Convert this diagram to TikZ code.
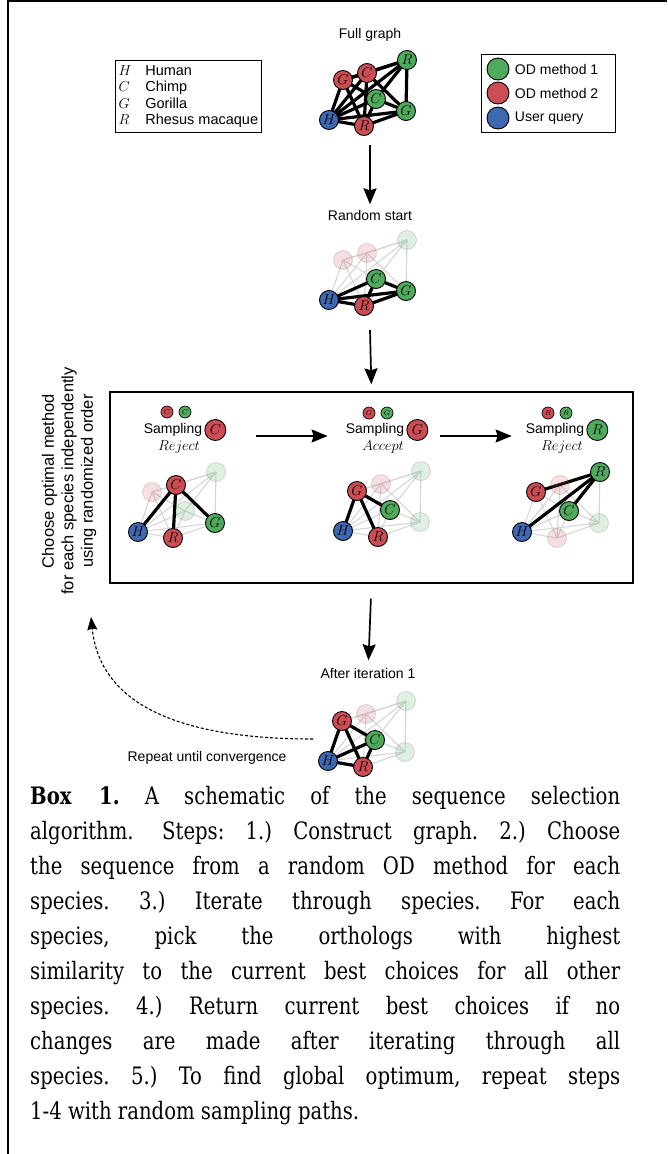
\documentclass[tikz,border=0pt]{standalone}
\usepackage{fontspec}
\setmainfont{Liberation Sans}
\newfontfamily\capfont{DejaVu Serif Condensed}[FakeStretch=0.91]
\usetikzlibrary{positioning,arrows.meta,backgrounds}

\definecolor{odgreen}{RGB}{80,170,92}
\definecolor{odred}{RGB}{204,78,84}
\definecolor{qblue}{RGB}{62,104,176}

% one species graph, H at the local origin
% #1 prefix, #2-#8 styles of G1 C1 R1 C2 G2 H R2, #9 thick edges
\newcommand{\speciesgraph}[9]{%
  \node[#2] (#1g1) at (14,-40) {$G$};
  \node[#3] (#1c1) at (38,-47) {$C$};
  \node[#4] (#1r1) at (78,-60) {$R$};
  \node[#5] (#1c2) at (47,-21) {$C$};
  \node[#6] (#1g2) at (77,-9) {$G$};
  \node[#7] (#1h) at (0,0) {$H$};
  \node[#8] (#1r2) at (35,6) {$R$};
  \begin{pgfonlayer}{background}
    \foreach \fromsp/\tosp in {h/g1,h/c1,h/r1,h/c2,h/g2,h/r2,g1/c1,g1/c2,g1/r1,g1/r2,
        g2/c1,g2/c2,g2/r1,g2/r2,c1/r1,c1/r2,c2/r1,c2/r2}
      \draw[thinedge] (#1\fromsp.center) -- (#1\tosp.center);
    \foreach \fromsp/\tosp in {#9}
      \draw[thickedge] (#1\fromsp.center) -- (#1\tosp.center);
  \end{pgfonlayer}}

\begin{document}
\begin{tikzpicture}[
  x=1pt, y=-1pt,
  lbl/.style={font=\fontsize{14}{16}\selectfont},
  spnode/.style={circle, draw=black, line width=0.9pt, minimum size=19pt,
    inner sep=0pt, font=\fontsize{13.5}{13.5}\selectfont},
  grnnode/.style={spnode, fill=odgreen},
  rednode/.style={spnode, fill=odred},
  blunode/.style={spnode, fill=qblue},
  fadegrn/.style={spnode, fill=odgreen, fill opacity=0.18, draw opacity=0.12,
    text opacity=0},
  fadered/.style={spnode, fill=odred, fill opacity=0.18, draw opacity=0.12,
    text opacity=0},
  smallnode/.style={minimum size=12pt, line width=0.7pt,
    font=\fontsize{7.5}{7.5}\selectfont},
  picknode/.style={minimum size=21pt},
  samplab/.style={lbl, inner sep=1pt},
  verdict/.style={font=\fontsize{14}{14}\selectfont},
  thinedge/.style={draw=black!16, line width=1.1pt},
  thickedge/.style={draw=black, line width=3.2pt},
  flow/.style={line width=1.7pt, -{Stealth[length=16pt,width=13pt,inset=2pt]}},
  loopflow/.style={line width=1.1pt, dash pattern=on 3pt off 2pt,
    -{Stealth[length=13pt,width=10pt,inset=1.5pt]}}
]
\useasboundingbox (0,0) rectangle (667,1154);
\draw[line width=1.5pt] (8,1154) -- (8,1) -- (667,1);

% keys
\node[draw, line width=1pt, inner sep=3pt, anchor=north west,
  font=\fontsize{14.5}{16.5}\selectfont] (spkey) at (115,60)
  {\begin{tabular}{@{}l@{\hspace{14pt}}l@{}}
    $H$ & Human\\ $C$ & Chimp\\ $G$ & Gorilla\\ $R$ & Rhesus macaque
  \end{tabular}};
\node[draw, line width=1pt, minimum width=134pt, minimum height=78pt]
  (odkey) at (548,93) {};
\node[grnnode, minimum size=22pt] (keyg) at (498,69) {};
\node[rednode, minimum size=22pt] (keyr) at (498,93) {};
\node[blunode, minimum size=22pt] (keyb) at (498,118) {};
\node[lbl, right=2pt of keyg] (keyglbl) {OD method 1};
\node[lbl, right=2pt of keyr] (keyrlbl) {OD method 2};
\node[lbl, right=2pt of keyb] (keyblbl) {User query};

% full graph and random start
\node[lbl] (lblfull) at (370,35) {Full graph};
\begin{scope}[shift={(329,120)}]
\speciesgraph{fg}{rednode}{rednode}{grnnode}{grnnode}{grnnode}{blunode}{rednode}
  {h/g1,h/c1,h/r1,h/c2,h/g2,h/r2,g1/c1,g1/c2,g1/r1,g1/r2,
   g2/c1,g2/c2,g2/r1,g2/r2,c1/r1,c1/r2,c2/r1,c2/r2}
\end{scope}
\node[lbl] (lblrand) at (370,215) {Random start};
\begin{scope}[shift={(329,300)}]
\speciesgraph{rs}{fadered}{fadered}{fadegrn}{grnnode}{grnnode}{blunode}{rednode}
  {h/c2,h/g2,h/r2,c2/g2,c2/r2,g2/r2}
\end{scope}
\coordinate (fullout) at (370,145);
\coordinate (randout) at (370,330);
\draw[flow, shorten >=2pt] (fullout) -- (lblrand);

% one pass over the species
\node[draw, line width=1.3pt, minimum width=523pt, minimum height=191pt]
  (itbox) at (371.5,487.5) {};
\draw[flow, shorten >=7pt] (randout) -- (itbox.north);
\node[lbl, rotate=90, align=center, font=\fontsize{16.5}{19.5}\selectfont]
  (sidenote) at (69,481)
  {Choose optimal method\\for each species independently\\using randomized order};

\node[samplab] (samp1) at (173,430) {Sampling};
\node[rednode, picknode, right=1pt of samp1] (pick1) {$C$};
\node[rednode, smallnode] (sa1) at (167,412) {$C$};
\node[grnnode, smallnode] (sb1) at (185,412) {$C$};
\node[verdict] (verd1) at (179,447) {$Reject$};
\begin{scope}[shift={(138,532)}]
\speciesgraph{pa}{fadered}{rednode}{fadegrn}{fadegrn}{grnnode}{blunode}{rednode}
  {c1/h,c1/r2,c1/g2}
\end{scope}

\node[samplab] (samp2) at (375,430) {Sampling};
\node[rednode, picknode, right=1pt of samp2] (pick2) {$G$};
\node[rednode, smallnode] (sa2) at (369,413) {$G$};
\node[grnnode, smallnode] (sb2) at (387,413) {$G$};
\node[verdict] (verd2) at (383,447) {$Accept$};
\begin{scope}[shift={(343,531)}]
\speciesgraph{pb}{rednode}{fadered}{fadegrn}{grnnode}{fadegrn}{blunode}{rednode}
  {g1/h,g1/c2,g1/r2}
\end{scope}

\node[samplab] (samp3) at (555,430) {Sampling};
\node[grnnode, picknode, right=1pt of samp3] (pick3) {$R$};
\node[rednode, smallnode] (sa3) at (548,413) {$R$};
\node[grnnode, smallnode] (sb3) at (566,413) {$R$};
\node[verdict] (verd3) at (562,447) {$Reject$};
\begin{scope}[shift={(522,532)}]
\speciesgraph{pc}{rednode}{fadered}{grnnode}{grnnode}{fadegrn}{blunode}{fadered}
  {r1/g1,r1/c2,r1/h}
\end{scope}

\draw[flow, shorten <=30pt, shorten >=17pt]
  ([yshift=-6pt]pick1.east) -- ([yshift=-6pt]samp2.west);
\draw[flow, shorten <=12pt, shorten >=13pt]
  ([yshift=-6pt]pick2.east) -- ([yshift=-6pt]samp3.west);

% result of the pass
\node[lbl] (lblafter) at (368,673) {After iteration 1};
\draw[flow, shorten <=15pt, shorten >=4pt] (itbox.south) -- (lblafter);
\begin{scope}[shift={(328,761)}]
\speciesgraph{ai}{rednode}{fadered}{fadegrn}{grnnode}{fadegrn}{blunode}{rednode}
  {h/g1,h/c2,h/r2,g1/c2,g1/r2,c2/r2}
\end{scope}
\coordinate (loopstart) at (313,739);
\coordinate (looptip) at (91,617);
\draw[loopflow] (loopstart) .. controls (180,739) and (100,705) .. (looptip);
\node[lbl] (repeatlbl) at (207,758) {Repeat until convergence};

% caption
\node[anchor=north west, inner sep=0pt, text width=590pt, align=justify,
  font=\capfont\fontsize{24}{35}\selectfont\frenchspacing] (caption) at (30,786)
  {{\bfseries Box 1.} A schematic of the sequence selection\linebreak
  algorithm.\hspace{0.3em} Steps: 1.) Construct graph. 2.) Choose\linebreak
  the sequence from a random OD method for each\linebreak
  species. 3.) Iterate through species. For each\linebreak
  species, pick the orthologs with highest\linebreak
  similarity to the current best choices for all other\linebreak
  species. 4.) Return current best choices if no\linebreak
  changes are made after iterating through all\linebreak
  species. 5.) To find global optimum, repeat steps\linebreak
  1-4 with random sampling paths.};
\end{tikzpicture}
\end{document}
